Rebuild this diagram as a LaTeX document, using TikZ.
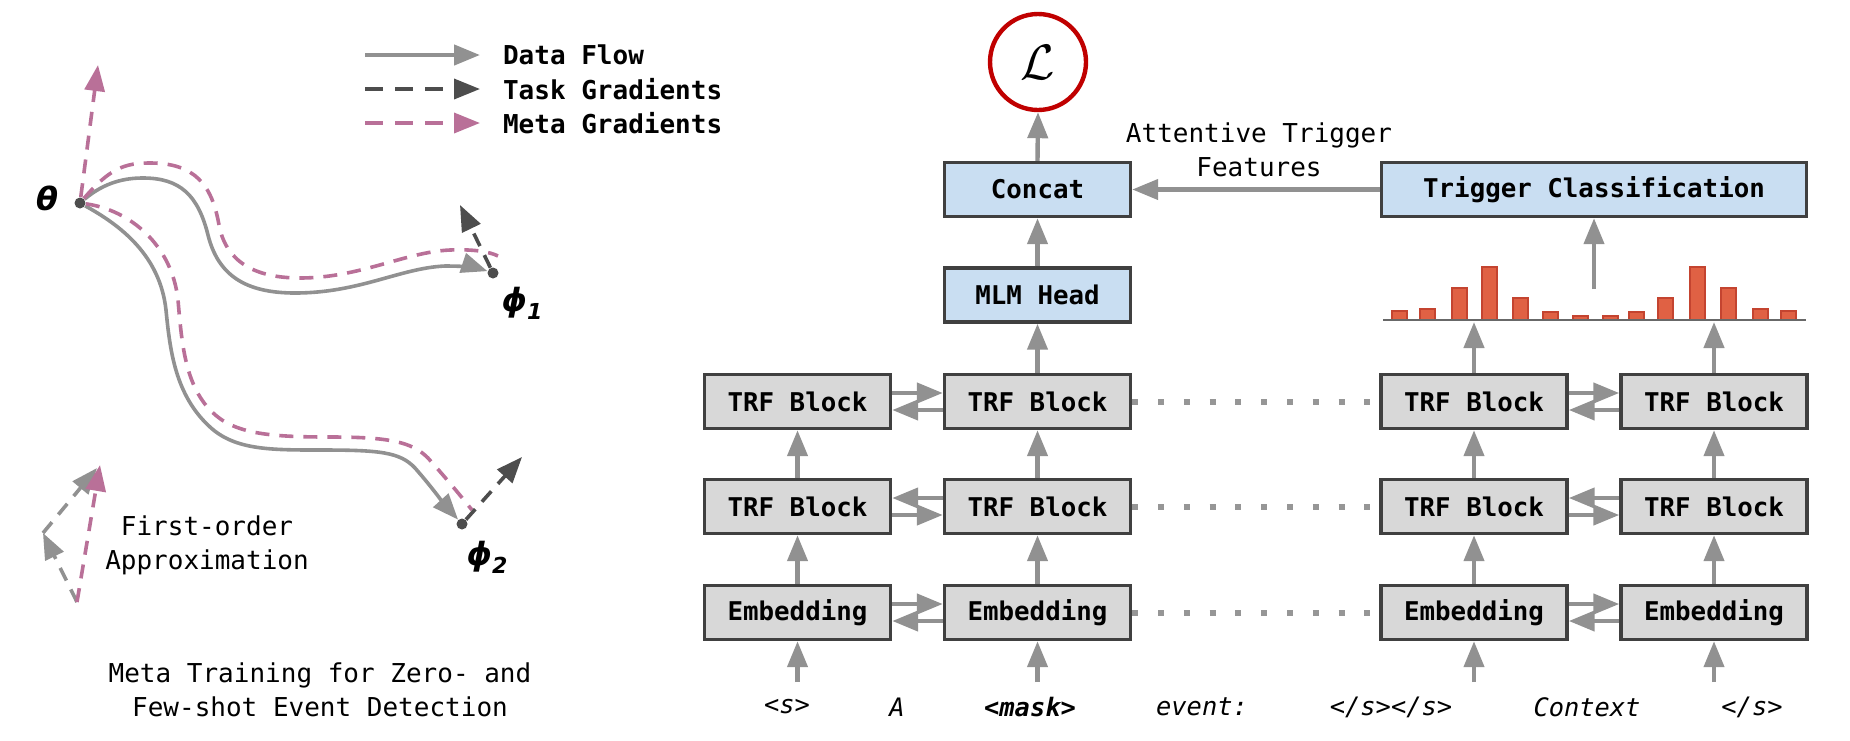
\documentclass[tikz,border=0pt]{standalone}
\usepackage{fontspec}
\setmainfont{DejaVu Sans Mono}
\newfontfamily\grkfont{DejaVu Sans}
\usetikzlibrary{arrows.meta}
\definecolor{flowgray}{RGB}{145,145,145}
\definecolor{taskgray}{RGB}{77,77,77}
\definecolor{metapink}{RGB}{185,112,152}
\definecolor{boxgray}{RGB}{216,216,216}
\definecolor{boxblue}{RGB}{201,222,242}
\definecolor{boxline}{RGB}{64,64,64}
\definecolor{lossred}{RGB}{192,0,0}
\definecolor{barfill}{RGB}{224,97,68}
\definecolor{barline}{RGB}{196,68,48}
\definecolor{dotgray}{RGB}{150,150,150}

\begin{document}
\begin{tikzpicture}[x=0.5pt, y=-0.5pt, font=\fontsize{13}{17}\selectfont,
	arr/.style={-{Triangle[length=13pt,width=10pt]}},
	flow/.style={arr, draw=flowgray, line width=2.2pt},
	flowcurve/.style={arr, draw=flowgray, line width=1.8pt},
	task/.style={arr, draw=taskgray, line width=1.8pt, dash pattern=on 7pt off 5pt},
	meta/.style={task, draw=metapink},
	box/.style={draw=boxline, line width=1.7pt, fill=boxgray, minimum width=93pt, minimum height=27pt, font=\fontsize{12.9}{17}\selectfont\bfseries},
	headbox/.style={box, fill=boxblue},
	tok/.style={font=\fontsize{12.7}{17}\selectfont\itshape},
	pnt/.style={circle, fill=taskgray, inner sep=0pt, minimum size=5.5pt},
	dotline/.style={draw=dotgray, line width=3pt, dash pattern=on 3pt off 9.9pt},
	bar/.style={fill=barfill, draw=barline, line width=0.6pt}]
	\useasboundingbox (0,0) rectangle (1850,740);
	\node[anchor=west, font=\fontsize{13}{17}\selectfont\bfseries] (lgflow) at (496,55) {Data Flow};
	\node[anchor=west, font=\fontsize{13}{17}\selectfont\bfseries] (lgtask) at (496,89) {Task Gradients};
	\node[anchor=west, font=\fontsize{13}{17}\selectfont\bfseries] (lgmeta) at (496,123) {Meta Gradients};
	\coordinate (lf) at (365,55);
	\coordinate (lt) at (365,89);
	\coordinate (lm) at (365,123);
	\draw[flow] (lf) -- ([xshift=-8pt]lgflow.west);
	\draw[task, dash pattern=on 9pt off 6pt] (lt) -- ([xshift=-8pt]lgtask.west);
	\draw[meta, dash pattern=on 9pt off 6pt] (lm) -- ([xshift=-8pt]lgmeta.west);
	\node[pnt] (theta) at (80,203) {};
	\node[pnt] (phia) at (493,273) {};
	\node[pnt] (phib) at (462,524) {};
	\node[font=\grkfont\bfseries\itshape\fontsize{16}{16}\selectfont] (thetalab) at (47,198) {θ};
	\node[font=\grkfont\bfseries\itshape\fontsize{16}{16}\selectfont] (phialab) at (522,303) {ϕ\raisebox{-0.45ex}{\fontsize{11}{11}\selectfont 1}};
	\node[font=\grkfont\bfseries\itshape\fontsize{16}{16}\selectfont] (phiblab) at (487,557) {ϕ\raisebox{-0.45ex}{\fontsize{11}{11}\selectfont 2}};
	\draw[flowcurve] (theta) .. controls (105,182) and (125,178) .. (143,178)
	  .. controls (180,178) and (198,195) .. (208,235)
	  .. controls (218,275) and (245,293) .. (295,293)
	  .. controls (360,293) and (400,268) .. (445,266)
	  .. controls (465,266) and (478,268) .. (phia);
	\draw[meta, -] (theta) .. controls (110,168) and (125,163) .. (150,163)
	  .. controls (195,163) and (212,185) .. (219,225)
	  .. controls (226,262) and (255,278) .. (300,278)
	  .. controls (360,278) and (405,252) .. (450,250)
	  .. controls (475,249) and (490,252) .. (498,256);
	\draw[flowcurve] (theta) .. controls (120,225) and (160,255) .. (166,310)
	  .. controls (170,350) and (175,395) .. (210,427)
	  .. controls (235,450) and (270,450) .. (320,450)
	  .. controls (380,450) and (400,452) .. (415,468)
	  .. controls (430,485) and (445,505) .. (phib);
	\draw[meta, -] (theta) .. controls (130,210) and (172,245) .. (178,300)
	  .. controls (182,345) and (185,395) .. (222,420)
	  .. controls (245,435) and (280,437) .. (330,437)
	  .. controls (390,437) and (412,442) .. (428,458)
	  .. controls (445,477) and (460,495) .. (472,510);
	\coordinate (gm) at (98,65);
	\coordinate (ga) at (460,205);
	\coordinate (gb) at (522,457);
	\draw[meta] (theta) -- (gm);
	\draw[task] (phia) -- (ga);
	\draw[task] (phib) -- (gb);
	\coordinate (fo) at (77,602);
	\coordinate (fa) at (43,533);
	\coordinate (fb) at (97,468);
	\coordinate (fc) at (100,465);
	\draw[task, draw=flowgray] (fo) -- (fa);
	\draw[task, draw=flowgray] (fa) -- (fb);
	\draw[meta] (fo) -- (fc);
	\node[align=center] (fotext) at (207,545) {First-order\\Approximation};
	\node[align=center] (caption) at (320,690) {Meta Training for Zero- and\\Few-shot Event Detection};
	\node[box] (ta) at (797.5,401.5) {TRF Block};
	\node[box] (tb) at (1037.5,401.5) {TRF Block};
	\node[box] (tc) at (1474,401.5) {TRF Block};
	\node[box] (td) at (1714,401.5) {TRF Block};
	\node[box] (ma) at (797.5,506.5) {TRF Block};
	\node[box] (mb) at (1037.5,506.5) {TRF Block};
	\node[box] (mc) at (1474,506.5) {TRF Block};
	\node[box] (md) at (1714,506.5) {TRF Block};
	\node[box] (ea) at (797.5,612.5) {Embedding};
	\node[box] (eb) at (1037.5,612.5) {Embedding};
	\node[box] (ec) at (1474,612.5) {Embedding};
	\node[box] (ed) at (1714,612.5) {Embedding};
	\node[headbox] (mlm) at (1037.5,295) {MLM Head};
	\node[headbox] (concat) at (1037.5,189.5) {Concat};
	\node[headbox, minimum width=212.3pt] (trig) at (1594,189.5) {Trigger Classification};
	\node[circle, draw=lossred, fill=white, line width=2.2pt, minimum size=48pt, inner sep=0pt, font=\fontsize{32}{32}\selectfont] (loss) at (1038,62) {$\mathcal{L}$};
	\draw[flow] (ea.north) -- (ma.south);
	\draw[flow] (eb.north) -- (mb.south);
	\draw[flow] (ec.north) -- (mc.south);
	\draw[flow] (ed.north) -- (md.south);
	\draw[flow] (ma.north) -- (ta.south);
	\draw[flow] (mb.north) -- (tb.south);
	\draw[flow] (mc.north) -- (tc.south);
	\draw[flow] (md.north) -- (td.south);
	\draw[flow] (tb.north) -- (mlm.south);
	\draw[flow] (mlm.north) -- (concat.south);
	\draw[flow] (concat.north) -- (loss.south);
	\draw[flow] (trig.west) -- (concat.east);
	\node[align=center] (attn) at (1259,150) {Attentive Trigger\\Features};
	\draw[flow] ([yshift=4.25pt]ta.east) -- ([yshift=4.25pt]tb.west);
	\draw[flow] ([yshift=-4.25pt]tb.west) -- ([yshift=-4.25pt]ta.east);
	\draw[flow] ([yshift=4.25pt]mb.west) -- ([yshift=4.25pt]ma.east);
	\draw[flow] ([yshift=-4.25pt]ma.east) -- ([yshift=-4.25pt]mb.west);
	\draw[flow] ([yshift=4.25pt]ea.east) -- ([yshift=4.25pt]eb.west);
	\draw[flow] ([yshift=-4.25pt]eb.west) -- ([yshift=-4.25pt]ea.east);
	\draw[flow] ([yshift=4.25pt]tc.east) -- ([yshift=4.25pt]td.west);
	\draw[flow] ([yshift=-4.25pt]td.west) -- ([yshift=-4.25pt]tc.east);
	\draw[flow] ([yshift=4.25pt]md.west) -- ([yshift=4.25pt]mc.east);
	\draw[flow] ([yshift=-4.25pt]mc.east) -- ([yshift=-4.25pt]md.west);
	\draw[flow] ([yshift=4.25pt]ec.east) -- ([yshift=4.25pt]ed.west);
	\draw[flow] ([yshift=-4.25pt]ed.west) -- ([yshift=-4.25pt]ec.east);
	\draw[dotline] (tb.east) -- (tc.west);
	\draw[dotline] (mb.east) -- (mc.west);
	\draw[dotline] (eb.east) -- (ec.west);
	\foreach \x/\h in {1399.5/9, 1427.5/11, 1459.5/32, 1489.5/53, 1520.5/22, 1550.5/8, 1580.5/4, 1610.5/4, 1636.5/8, 1665.5/22, 1697.5/53, 1728.5/32, 1760.5/11, 1788.5/9}
	  \draw[bar] (\x-7.5,320) rectangle (\x+7.5,320-\h);
	\draw[draw=taskgray!85, line width=1pt] (1383,320) -- (1806,320);
	\coordinate (hc) at (1474,322);
	\coordinate (hd) at (1714,322);
	\coordinate (hup) at (1594,289);
	\draw[flow] (tc.north) -- (hc);
	\draw[flow] (td.north) -- (hd);
	\draw[flow] (hup) -- (trig.south);
	\coordinate (ia) at (797.5,682);
	\coordinate (ib) at (1037.5,682);
	\coordinate (ic) at (1474,682);
	\coordinate (id) at (1714,682);
	\draw[flow] (ia) -- (ea.south);
	\draw[flow] (ib) -- (eb.south);
	\draw[flow] (ic) -- (ec.south);
	\draw[flow] (id) -- (ed.south);
	\node[tok] (w1) at (787,707) {<s>};
	\node[tok] (w2) at (897,707) {A};
	\node[tok, font=\fontsize{12.7}{17}\selectfont\bfseries\itshape] (w3) at (1030,707) {<mask>};
	\node[tok] (w4) at (1202,707) {event:};
	\node[tok] (w5) at (1391,707) {</s></s>};
	\node[tok] (w6) at (1587,707) {Context};
	\node[tok] (w7) at (1752,707) {</s>};
\end{tikzpicture}
\end{document}
